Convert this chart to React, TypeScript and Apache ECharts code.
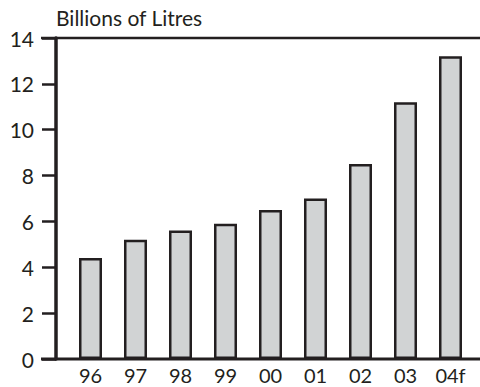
import React, { useEffect, useRef } from "react";
import * as echarts from "echarts";

const categories = ["96", "97", "98", "99", "00", "01", "02", "03", "04f"];
const values = [4.4, 5.2, 5.6, 5.9, 6.5, 7.0, 8.5, 11.2, 13.2];
const yTicks = { min: 0, max: 14, interval: 2 };
const titleText = "Billions of Litres";

const INK = "#231f20";
const FONT = "Lato, 'Open Sans', sans-serif";

export default function App() {
  const ref = useRef<HTMLDivElement>(null);
  useEffect(() => {
    if (!ref.current) return;
    const chart = echarts.init(ref.current, null, { renderer: "svg" });
    const gridTop = 38;
    const gridBottom = 28;
    const H = 387;
    chart.setOption({
      animation: false,
      backgroundColor: "#ffffff",
      title: {
        text: titleText,
        left: 51,
        top: 2,
        textStyle: { fontFamily: FONT, fontSize: 21, fontWeight: "normal", color: INK },
      },
      grid: { left: 68, right: 7, top: gridTop, bottom: gridBottom, containLabel: false },
      xAxis: {
        type: "category",
        data: categories,
        axisLine: { show: false },
        axisTick: { show: false },
        axisLabel: { margin: 6, fontFamily: FONT, fontSize: 20, lineHeight: 20, color: INK },
      },
      yAxis: {
        type: "value",
        min: yTicks.min,
        max: yTicks.max,
        interval: yTicks.interval,
        offset: 12,
        splitLine: { show: false },
        axisLine: { show: true, lineStyle: { color: INK, width: 3.5 } },
        axisTick: { show: true, length: 14, lineStyle: { color: INK, width: 2.5 } },
        axisLabel: { margin: 22, fontFamily: FONT, fontSize: 21, color: INK },
      },
      graphic: [
        {
          type: "line",
          shape: { x1: 41, y1: gridTop, x2: 480, y2: gridTop },
          style: { stroke: INK, lineWidth: 2.5 },
          z: 10,
        },
        {
          type: "line",
          shape: { x1: 41, y1: H - gridBottom, x2: 480, y2: H - gridBottom },
          style: { stroke: INK, lineWidth: 3 },
          z: 10,
        },
      ],
      series: [
        {
          type: "bar",
          data: values,
          barWidth: 23,
          itemStyle: { color: "#d1d3d4", borderColor: INK, borderWidth: 2.5 },
        },
      ],
    });
    return () => chart.dispose();
  }, []);
  return (
    <div
      ref={ref}
      style={{ position: "fixed", left: 0, top: 0, width: 480, height: 387 }}
    />
  );
}
